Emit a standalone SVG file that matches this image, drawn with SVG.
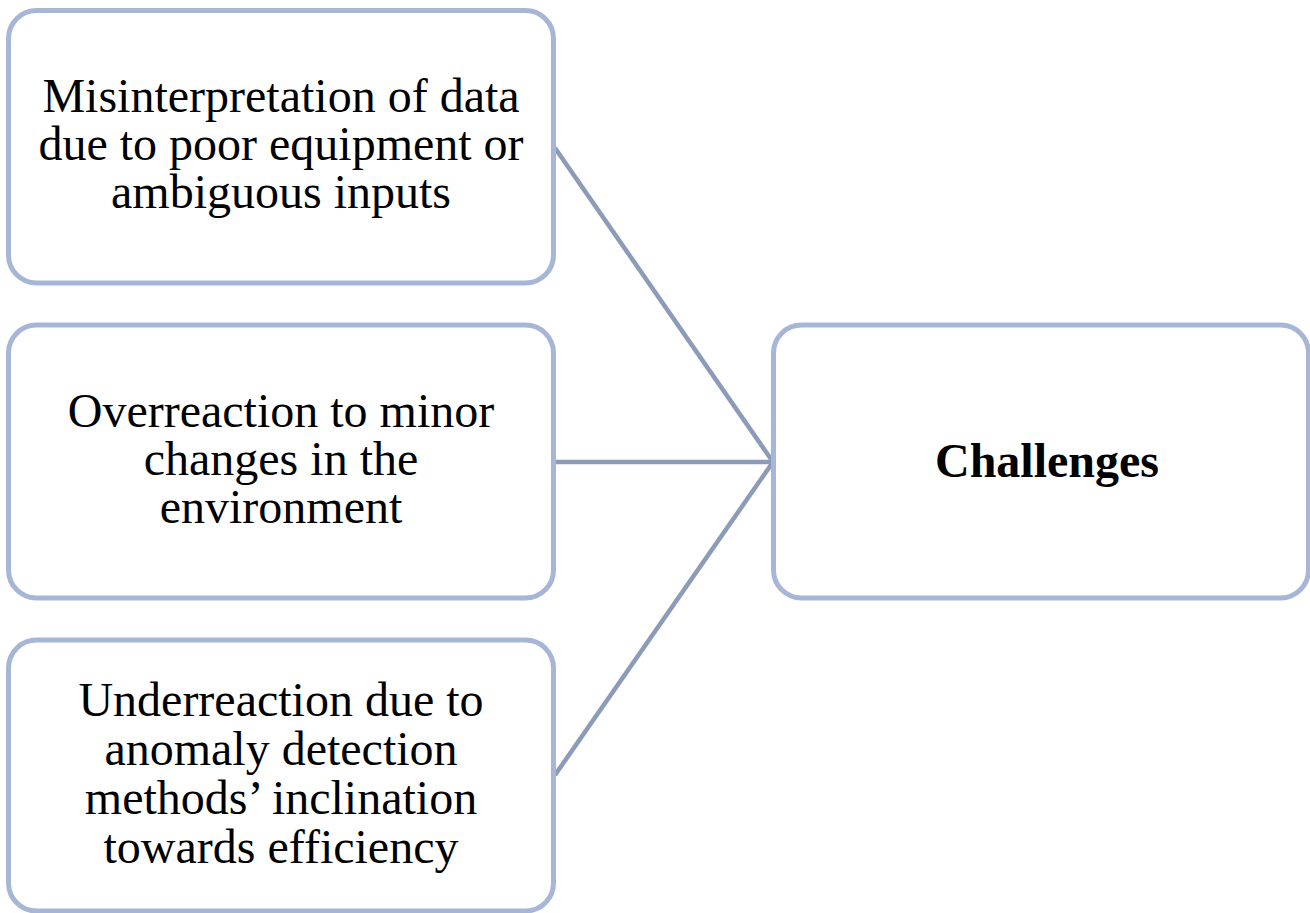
<svg xmlns="http://www.w3.org/2000/svg" width="1310" height="913" viewBox="0 0 1310 913">
<style>
.box{fill:#ffffff;stroke:#a7b6d6;stroke-width:5}
.conn{stroke:#8c9cb8;stroke-width:4.5;fill:none}
text{font-family:"Liberation Serif","Times New Roman",serif;font-size:48px;fill:#000;text-anchor:middle}
.b{font-weight:bold}
</style>
<rect width="1310" height="913" fill="#ffffff"/>
<g id="connectors">
<line class="conn" x1="555" y1="148" x2="773" y2="462"/>
<line class="conn" x1="555" y1="462" x2="773" y2="462"/>
<line class="conn" x1="555" y1="775" x2="773" y2="462"/>
</g>
<g id="node1">
<rect class="box" x="8.5" y="10.5" width="545" height="272.5" rx="28"/>
<text x="281" y="112">Misinterpretation of data</text>
<text x="281" y="160">due to poor equipment or</text>
<text x="281" y="208">ambiguous inputs</text>
</g>
<g id="node2">
<rect class="box" x="8.5" y="325" width="545" height="273" rx="28"/>
<text x="281" y="427">Overreaction to minor</text>
<text x="281" y="475">changes in the</text>
<text x="281" y="523">environment</text>
</g>
<g id="node3">
<rect class="box" x="8.5" y="640" width="545" height="271" rx="28"/>
<text x="281" y="716">Underreaction due to</text>
<text x="281" y="765">anomaly detection</text>
<text x="281" y="814">methods’ inclination</text>
<text x="281" y="863">towards efficiency</text>
</g>
<g id="challenges">
<rect class="box" x="773.5" y="325" width="535" height="273" rx="28"/>
<text class="b" x="1047" y="477">Challenges</text>
</g>
</svg>
